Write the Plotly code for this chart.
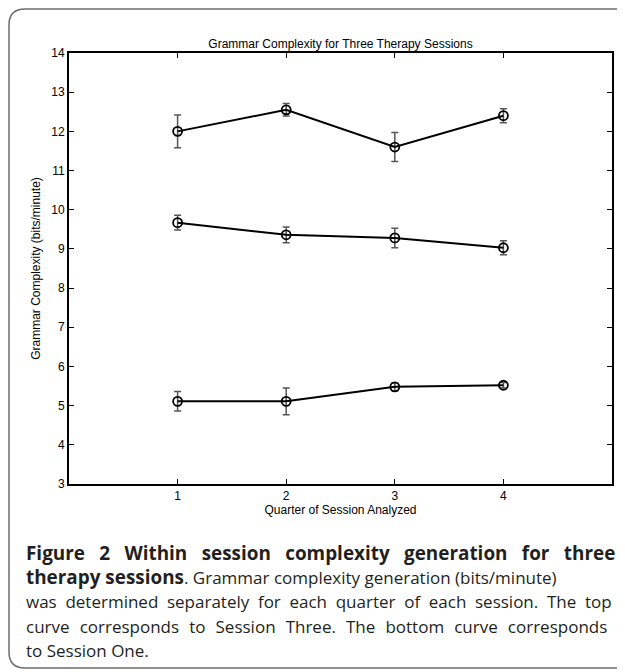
import plotly.graph_objects as go

# ---- data ----
quarters = [1, 2, 3, 4]
x_tick_labels = ["1", "2", "3", "4"]
session_three = [12.00, 12.55, 11.60, 12.40]
session_three_err = [0.42, 0.16, 0.37, 0.18]
session_two = [9.67, 9.36, 9.28, 9.03]
session_two_err = [0.19, 0.20, 0.25, 0.18]
session_one = [5.11, 5.11, 5.48, 5.52]
session_one_err = [0.25, 0.34, 0.10, 0.07]

W, H = 625, 672
OFF = 8  # default page body margin shifts the figure by this much
# plot area in page pixels: x 69..612, y 53..484
L, T = 69 - OFF, 53 - OFF
R = W - (612 - OFF)
B = H - (484 - OFF)
PW, PH = W - L - R, H - T - B


def px(x):
    """page pixel x -> paper fraction"""
    return (x - OFF - L) / PW


def py(y):
    """page pixel y -> paper fraction"""
    return (H - B - (y - OFF)) / PH


fig = go.Figure()
for name, vals, errs in [("Session Three", session_three, session_three_err),
                         ("Session Two", session_two, session_two_err),
                         ("Session One", session_one, session_one_err)]:
    fig.add_trace(go.Scatter(
        x=quarters, y=vals, name=name, mode="lines+markers",
        line=dict(color="black", width=2),
        marker=dict(symbol="circle-open", size=9, color="black", line=dict(width=1.8)),
        error_y=dict(type="data", array=errs, visible=True, color="#555555",
                     thickness=1.5, width=3.5),
        showlegend=False,
    ))

axis_common = dict(showline=True, linewidth=2, linecolor="black", mirror="allticks",
                   ticks="inside", ticklen=5, tickwidth=1.2, tickcolor="black",
                   showgrid=False, zeroline=False,
                   tickfont=dict(family="Liberation Sans", size=12, color="black"))

fig.update_xaxes(range=[0, 5], tickvals=quarters, ticktext=x_tick_labels,
                 title=dict(text="Quarter of Session Analyzed", standoff=0,
                            font=dict(family="Liberation Sans", size=12, color="black")),
                 **axis_common)
fig.update_yaxes(range=[3, 14], dtick=1,
                 title=dict(text="Grammar Complexity (bits/minute)", standoff=8,
                            font=dict(family="Liberation Sans", size=12, color="black")),
                 **axis_common)

# rounded outer frame
x0, x1, y0, y1, r = px(9), px(680), py(9), py(668), 16
rx, ry = r / PW, r / PH
path = (f"M {x1},{y0} L {x0+rx},{y0} Q {x0},{y0} {x0},{y0-ry} "
        f"L {x0},{y1+ry} Q {x0},{y1} {x0+rx},{y1} L {x1},{y1}")
fig.add_shape(type="path", path=path, xref="paper", yref="paper",
              line=dict(color="#6e6e6e", width=1.5))

# caption (justified lines get widened word gaps)
cap_font = dict(family="Open Sans", size=17, color="#231f20")
bold_style = "font-size:18.9px;font-weight:bold"
EN = "\u2002"
QUARTER = "\u2005"
THREE = "\u2004"
line1 = (" " + EN).join("Figure 2 Within session complexity generation for three".split(" "))
line3 = (" " + QUARTER).join("was determined separately for each quarter of each session. The top".split(" "))
line4 = (" " + THREE).join("curve corresponds to Session Three. The bottom curve corresponds".split(" "))
caption_lines = [
    (f"<b style='{bold_style}'>{line1}</b>", 553),
    (f"<b style='{bold_style}'>therapy sessions</b>. Grammar complexity generation (bits/minute)", 577),
    (line3, 601),
    (line4, 626),
    ("to Session One.", 650),
]
for txt, yy in caption_lines:
    fig.add_annotation(text=txt, x=px(24), y=py(yy), xref="paper", yref="paper",
                       xanchor="left", yanchor="middle", showarrow=False, font=cap_font)

fig.update_layout(
    width=W, height=H,
    margin=dict(l=L, r=R, t=T, b=B),
    paper_bgcolor="white", plot_bgcolor="white",
    title=dict(text="Grammar Complexity for Three Therapy Sessions",
               x=0.5, xref="paper", xanchor="center",
               y=1 - (44 - OFF) / H, yref="container", yanchor="middle",
               font=dict(family="Liberation Sans", size=12, color="black")),
)

fig.write_html("out.html")
